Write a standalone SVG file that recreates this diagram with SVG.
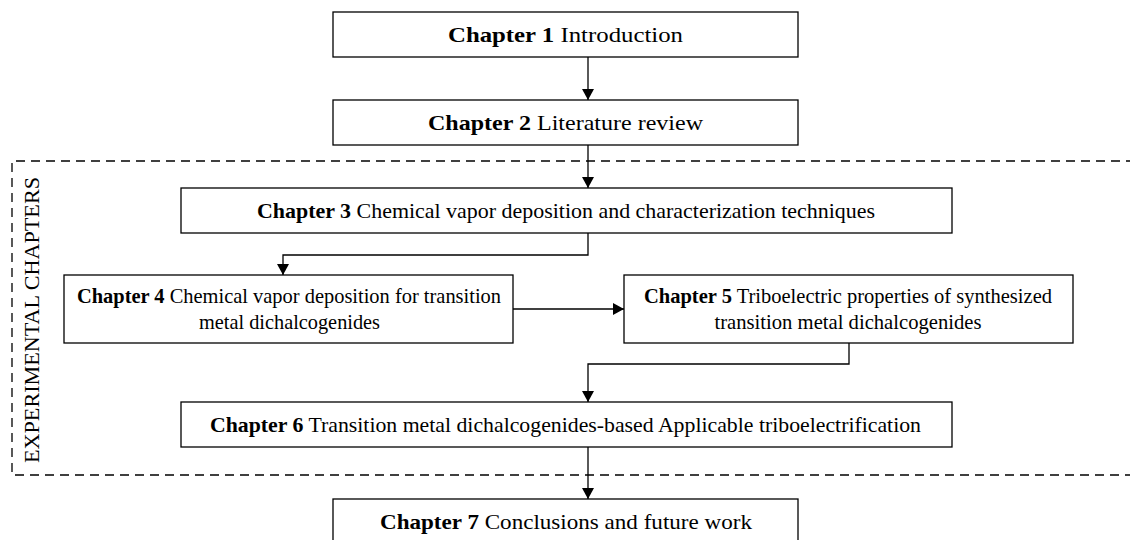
<svg xmlns="http://www.w3.org/2000/svg" width="1130" height="540" viewBox="0 0 1130 540">
<style>
.box{fill:#fff;stroke:#000;stroke-width:1.3}
.t{font-family:"Liberation Serif","Times New Roman",serif;font-size:22px;fill:#000;text-anchor:middle}
.b{font-weight:bold}
.c{fill:none;stroke:#000;stroke-width:1.3}
.dash{fill:none;stroke:#000;stroke-width:1.3;stroke-dasharray:9 6}
</style>
<defs>
<marker id="ah" markerUnits="userSpaceOnUse" markerWidth="12" markerHeight="12" refX="11" refY="6" orient="auto">
<path d="M0,0 L11,6 L0,12 z" fill="#000"/>
</marker>
</defs>
<g id="experimental-region">
<path class="dash" d="M1135 161 H12 V475 H1135"/>
<text class="t" x="39" y="320" transform="rotate(-90 39 320)" textLength="286" lengthAdjust="spacingAndGlyphs">EXPERIMENTAL CHAPTERS</text>
</g>
<g id="connectors">
<path class="c" d="M588 57 V100" marker-end="url(#ah)"/>
<path class="c" d="M588 145 V188" marker-end="url(#ah)"/>
<path class="c" d="M588 233 V255 H283 V275" marker-end="url(#ah)"/>
<path class="c" d="M513 309 H624" marker-end="url(#ah)"/>
<path class="c" d="M849 343 V364 H588 V402" marker-end="url(#ah)"/>
<path class="c" d="M588 447 V499" marker-end="url(#ah)"/>
</g>
<g id="ch1">
<rect class="box" x="333" y="12" width="465" height="45"/>
<text class="t" x="565.5" y="42" textLength="235" lengthAdjust="spacingAndGlyphs"><tspan class="b">Chapter 1</tspan> Introduction</text>
</g>
<g id="ch2">
<rect class="box" x="333" y="100" width="465" height="45"/>
<text class="t" x="565.5" y="130" textLength="275" lengthAdjust="spacingAndGlyphs"><tspan class="b">Chapter 2</tspan> Literature review</text>
</g>
<g id="ch3">
<rect class="box" x="181" y="188" width="771" height="45"/>
<text class="t" x="566" y="218" textLength="618" lengthAdjust="spacingAndGlyphs"><tspan class="b">Chapter 3</tspan> Chemical vapor deposition and characterization techniques</text>
</g>
<g id="ch4">
<rect class="box" x="64" y="275" width="449" height="68"/>
<text class="t" x="289" y="303" textLength="424" lengthAdjust="spacingAndGlyphs"><tspan class="b">Chapter 4</tspan> Chemical vapor deposition for transition</text>
<text class="t" x="289.5" y="329" textLength="181" lengthAdjust="spacingAndGlyphs">metal dichalcogenides</text>
</g>
<g id="ch5">
<rect class="box" x="624" y="275" width="449" height="68"/>
<text class="t" x="848" y="303" textLength="408" lengthAdjust="spacingAndGlyphs"><tspan class="b">Chapter 5</tspan> Triboelectric properties of synthesized</text>
<text class="t" x="848" y="329" textLength="267" lengthAdjust="spacingAndGlyphs">transition metal dichalcogenides</text>
</g>
<g id="ch6">
<rect class="box" x="181" y="402" width="771" height="45"/>
<text class="t" x="565.5" y="432" textLength="711" lengthAdjust="spacingAndGlyphs"><tspan class="b">Chapter 6</tspan> Transition metal dichalcogenides-based Applicable triboelectrification</text>
</g>
<g id="ch7">
<rect class="box" x="333" y="499" width="465" height="45"/>
<text class="t" x="566" y="529" textLength="372" lengthAdjust="spacingAndGlyphs"><tspan class="b">Chapter 7</tspan> Conclusions and future work</text>
</g>
</svg>
